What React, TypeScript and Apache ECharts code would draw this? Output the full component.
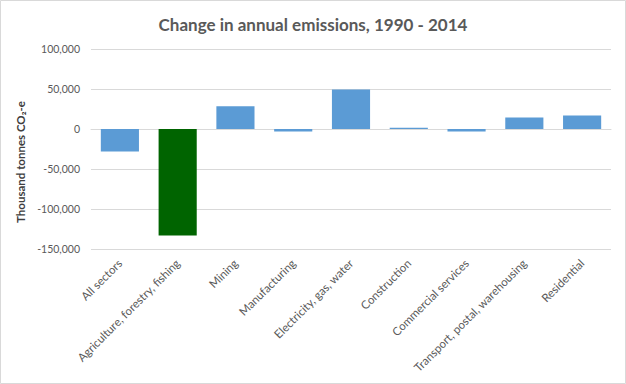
import React, { useEffect, useRef } from "react";
import * as echarts from "echarts";

const categories = [
  "All sectors",
  "Agriculture, forestry, fishing",
  "Mining",
  "Manufacturing",
  "Electricity, gas, water",
  "Construction",
  "Commercial services",
  "Transport, postal, warehousing",
  "Residential",
];
const values = [-28000, -133000, 28300, -3000, 49500, 1500, -3000, 14500, 17000];
const highlighted = "Agriculture, forestry, fishing";

const FONT = "Lato";

export default function App() {
  const ref = useRef<HTMLDivElement>(null);
  useEffect(() => {
    if (!ref.current) return;
    const chart = echarts.init(ref.current, null, { renderer: "svg" });
    chart.setOption({
      animation: false,
      backgroundColor: "#ffffff",
      title: {
        text: "Change in annual emissions, 1990 - 2014",
        left: "center",
        top: 11,
        textStyle: { fontFamily: FONT, fontSize: 17, fontWeight: "bold", color: "#595959" },
      },
      grid: { left: 91, right: 15, top: 49, height: 200 },
      xAxis: {
        type: "category",
        data: categories,
        axisLine: { lineStyle: { color: "#d9d9d9" } },
        axisTick: { show: false },
        axisLabel: {
          interval: 0,
          rotate: 45,
          fontFamily: FONT,
          fontSize: 11.5,
          color: "#595959",
          margin: 12,
        },
      },
      yAxis: {
        type: "value",
        min: -150000,
        max: 100000,
        interval: 50000,
        axisLine: { show: false },
        axisTick: { show: false },
        splitLine: { lineStyle: { color: "#d9d9d9" } },
        axisLabel: {
          fontFamily: FONT,
          fontSize: 10.5,
          color: "#595959",
          margin: 11,
          formatter: (v: number) => v.toLocaleString("en-US"),
        },
      },
      series: [
        {
          type: "bar",
          barCategoryGap: "34%",
          data: categories.map((c, i) => ({
            value: values[i],
            itemStyle: { color: c === highlighted ? "#006400" : "#5b9bd5" },
          })),
        },
      ],
      graphic: [
        {
          type: "rect",
          shape: { x: 0.5, y: 0.5, width: 625, height: 383 },
          style: { fill: "none", stroke: "#d9d9d9", lineWidth: 1 },
          silent: true,
        },
        {
          type: "text",
          x: 20,
          y: 162,
          rotation: Math.PI / 2,
          style: {
            text: "Thousand tonnes CO₂-e",
            fontFamily: FONT,
            fontSize: 11.5,
            fontWeight: "bold",
            fill: "#404040",
            textAlign: "center",
            textVerticalAlign: "middle",
          },
        },
      ],
    });
    return () => chart.dispose();
  }, []);
  return (
    <div
      ref={ref}
      style={{ position: "absolute", left: 0, top: 0, width: 626, height: 384 }}
    />
  );
}
